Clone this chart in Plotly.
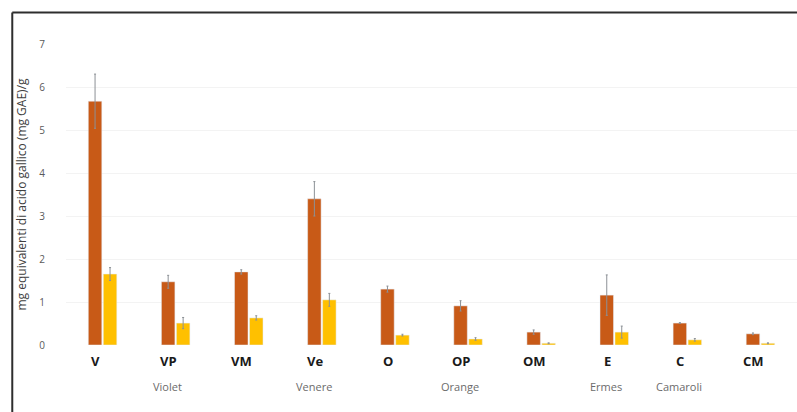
import plotly.graph_objects as go

categories = ["V", "VP", "VM", "Ve", "O", "OP", "OM", "E", "C", "CM"]
series1 = [5.67, 1.47, 1.70, 3.40, 1.30, 0.91, 0.30, 1.16, 0.51, 0.26]
err1 = [0.63, 0.15, 0.05, 0.40, 0.07, 0.12, 0.05, 0.47, 0.01, 0.02]
series2 = [1.65, 0.51, 0.63, 1.05, 0.23, 0.14, 0.04, 0.30, 0.12, 0.04]
err2 = [0.15, 0.13, 0.05, 0.15, 0.02, 0.03, 0.01, 0.14, 0.03, 0.01]
groups = [("Violet", "VP"), ("Venere", "Ve"), ("Orange", "OP"), ("Ermes", "E"), ("Camaroli", "C")]
y_ticks = [0, 1, 2, 3, 4, 5, 6, 7]

fig = go.Figure()
fig.add_trace(go.Bar(
    x=categories, y=series1, marker_color="#C85A17",
    error_y=dict(type="data", array=err1, color="#8C9196", thickness=1, width=1),
    showlegend=False))
fig.add_trace(go.Bar(
    x=categories, y=series2, marker_color="#FFC000",
    error_y=dict(type="data", array=err2, color="#8C9196", thickness=1, width=1),
    showlegend=False))

for c in categories:
    fig.add_annotation(x=c, y=0, xref="x", yref="y", text=f"<b>{c}</b>",
                       showarrow=False, yanchor="top", yshift=-5, xshift=-7,
                       font=dict(size=13, color="#1a1a1a", family="Open Sans"))
for g, c in groups:
    fig.add_annotation(x=c, y=0, xref="x", yref="y", text=g,
                       showarrow=False, yanchor="top", yshift=-32, xshift=-8,
                       font=dict(size=11, color="#6b6b6b", family="Open Sans"))

# frame lines (top and left)
fig.add_shape(type="line", xref="paper", yref="paper", x0=-0.0735, x1=1.01,
              y0=1.105, y1=1.105, line=dict(color="#2e2e2e", width=2))
fig.add_shape(type="line", xref="paper", yref="paper", x0=-0.0735, x1=-0.0735,
              y0=1.105, y1=-0.25, line=dict(color="#2e2e2e", width=2))

fig.update_layout(
    width=797, height=412,
    margin=dict(l=66, r=0, t=44, b=67),
    paper_bgcolor="white", plot_bgcolor="white",
    barmode="group", bargap=0.59, bargroupgap=0.1,
    font=dict(family="Open Sans", color="#595959"),
    xaxis=dict(showticklabels=False, showgrid=False, zeroline=False,
               showline=False, range=[-0.5, 9.5]),
    yaxis=dict(range=[0, 7], tickvals=y_ticks, showgrid=True, gridcolor="#f3f3f3",
               zeroline=False, showline=False, ticklabelstandoff=20,
               tickfont=dict(size=10, color="#5a5a5a"),
               title=dict(text="mg equivalenti di acido gallico (mg GAE)/g",
                          font=dict(size=12, color="#404040"), standoff=10)),
)

fig.write_html("out.html")
